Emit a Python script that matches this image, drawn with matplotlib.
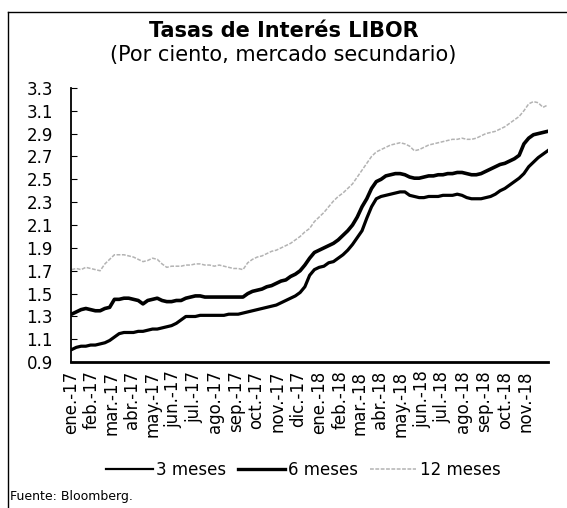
import matplotlib.pyplot as plt
from matplotlib.lines import Line2D
import pandas as pd

# weekly readings, from 2 Jan 2017
start_date = "2017-01-02"

libor_3m = [1.01, 1.03, 1.04, 1.04, 1.05, 1.05, 1.06, 1.07, 1.09, 1.12,
            1.15, 1.16, 1.16, 1.16, 1.17, 1.17, 1.18, 1.19, 1.19, 1.20,
            1.21, 1.22, 1.24, 1.27, 1.30, 1.30, 1.30, 1.31, 1.31, 1.31,
            1.31, 1.31, 1.31, 1.32, 1.32, 1.32, 1.33, 1.34, 1.35, 1.36,
            1.37, 1.38, 1.39, 1.40, 1.42, 1.44, 1.46, 1.48, 1.51, 1.56,
            1.66, 1.71, 1.73, 1.74, 1.77, 1.78, 1.81, 1.84, 1.88, 1.93,
            1.99, 2.05, 2.16, 2.26, 2.33, 2.35, 2.36, 2.37, 2.38, 2.39,
            2.39, 2.36, 2.35, 2.34, 2.34, 2.35, 2.35, 2.35, 2.36, 2.36,
            2.36, 2.37, 2.36, 2.34, 2.33, 2.33, 2.33, 2.34, 2.35, 2.37,
            2.40, 2.42, 2.45, 2.48, 2.51, 2.55, 2.61, 2.65, 2.69, 2.72,
            2.75]

libor_6m = [1.32, 1.34, 1.36, 1.37, 1.36, 1.35, 1.35, 1.37, 1.38, 1.45,
            1.45, 1.46, 1.46, 1.45, 1.44, 1.41, 1.44, 1.45, 1.46, 1.44,
            1.43, 1.43, 1.44, 1.44, 1.46, 1.47, 1.48, 1.48, 1.47, 1.47,
            1.47, 1.47, 1.47, 1.47, 1.47, 1.47, 1.47, 1.50, 1.52, 1.53,
            1.54, 1.56, 1.57, 1.59, 1.61, 1.62, 1.65, 1.67, 1.70, 1.75,
            1.81, 1.86, 1.88, 1.90, 1.92, 1.94, 1.97, 2.01, 2.05, 2.10,
            2.17, 2.26, 2.33, 2.42, 2.48, 2.50, 2.53, 2.54, 2.55, 2.55,
            2.54, 2.52, 2.51, 2.51, 2.52, 2.53, 2.53, 2.54, 2.54, 2.55,
            2.55, 2.56, 2.56, 2.55, 2.54, 2.54, 2.55, 2.57, 2.59, 2.61,
            2.63, 2.64, 2.66, 2.68, 2.71, 2.81, 2.86, 2.89, 2.90, 2.91,
            2.92]

libor_12m = [1.71, 1.72, 1.71, 1.73, 1.72, 1.71, 1.70, 1.76, 1.80, 1.84,
             1.84, 1.84, 1.83, 1.82, 1.80, 1.78, 1.79, 1.81, 1.80, 1.76,
             1.73, 1.74, 1.74, 1.74, 1.75, 1.75, 1.76, 1.76, 1.75, 1.75,
             1.74, 1.75, 1.74, 1.73, 1.72, 1.72, 1.71, 1.77, 1.80, 1.82,
             1.83, 1.85, 1.87, 1.88, 1.90, 1.92, 1.94, 1.97, 2.00, 2.04,
             2.07, 2.13, 2.17, 2.21, 2.26, 2.31, 2.35, 2.38, 2.42, 2.46,
             2.52, 2.58, 2.64, 2.70, 2.74, 2.76, 2.78, 2.80, 2.81, 2.82,
             2.81, 2.79, 2.75, 2.76, 2.78, 2.80, 2.81, 2.82, 2.83, 2.84,
             2.85, 2.85, 2.86, 2.85, 2.85, 2.86, 2.88, 2.90, 2.91, 2.92,
             2.94, 2.96, 2.99, 3.02, 3.05, 3.10, 3.16, 3.18, 3.17, 3.13,
             3.15]

month_labels = ["ene.-17", "feb.-17", "mar.-17", "abr.-17", "may.-17", "jun.-17",
                "jul.-17", "ago.-17", "sep.-17", "oct.-17", "nov.-17", "dic.-17",
                "ene.-18", "feb.-18", "mar.-18", "abr.-18", "may.-18", "jun.-18",
                "jul.-18", "ago.-18", "sep.-18", "oct.-18", "nov.-18"]

plt.rcParams['font.family'] = ['DejaVu Sans']

dates = pd.date_range(start_date, periods=len(libor_3m), freq="7D")
month_ticks = pd.date_range("2017-01-01", periods=len(month_labels), freq="MS")

grey = "#b3b3b3"

fig = plt.figure(figsize=(5.67, 5.08), dpi=100)
ax = fig.add_axes([0.125, 0.287, 0.841, 0.54])

ax.plot(dates, libor_12m, color=grey, lw=1.1, ls=(0, (2.5, 1)))
ax.plot(dates, libor_6m, color="black", lw=2.6)
ax.plot(dates, libor_3m, color="black", lw=2.3)

ax.set_xlim(dates[0], dates[-1])
ax.set_ylim(0.9, 3.3)
ax.set_yticks([0.9 + 0.2 * i for i in range(13)])
ax.set_yticklabels([f"{0.9 + 0.2 * i:.1f}" for i in range(13)])
ax.set_xticks(month_ticks)
ax.set_xticklabels(month_labels, rotation=90)

ax.tick_params(axis="y", direction="in", length=4, labelsize=12, pad=13)
ax.tick_params(axis="x", length=0, labelsize=12, pad=6)
for s in ["top", "right"]:
    ax.spines[s].set_visible(False)
ax.spines["left"].set_linewidth(1.3)
ax.spines["bottom"].set_linewidth(2.0)

fig.text(0.5, 0.938, "Tasas de Interés LIBOR", ha="center", va="center",
         fontsize=15, fontweight="bold")
fig.text(0.5, 0.891, "(Por ciento, mercado secundario)", ha="center", va="center",
         fontsize=15)

handles = [Line2D([], [], color="black", lw=1.6),
           Line2D([], [], color="black", lw=2.4),
           Line2D([], [], color=grey, lw=1.1, ls=(0, (2.5, 1)))]
fig.legend(handles, ["3 meses", "6 meses", "12 meses"], loc="center",
           bbox_to_anchor=(0.535, 0.075), ncol=3, frameon=False, fontsize=12,
           handlelength=2.8, handletextpad=0.2, columnspacing=0.7)

fig.text(0.018, 0.022, "Fuente: Bloomberg.", fontsize=9, va="center")

# frame lines, top and left
fig.add_artist(Line2D([0.014, 1.0], [0.976, 0.976], color="black", lw=1.0))
fig.add_artist(Line2D([0.014, 0.014], [0.0, 0.976], color="black", lw=1.0))

fig.savefig("out.png", dpi=100)
